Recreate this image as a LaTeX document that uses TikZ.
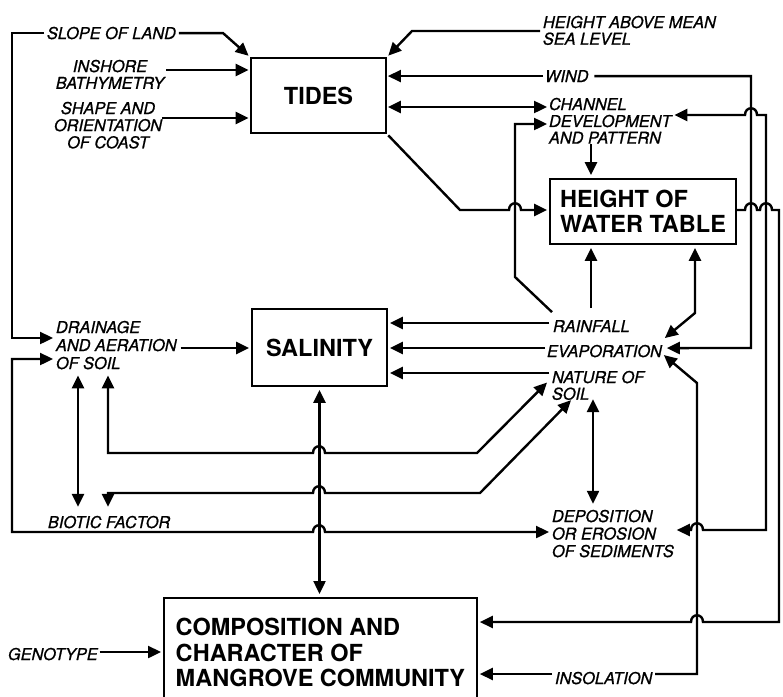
\documentclass[tikz,border=0pt]{standalone}
\usepackage{fontspec}
\setmainfont{TeX Gyre Heros}
\newfontfamily\labfam[ItalicFeatures={FakeBold=0.9}]{TeX Gyre Heros}
\usetikzlibrary{arrows.meta,calc}
\newcommand\labf[1]{\labfam\fontsize{16.3pt}{#1pt}\selectfont\itshape}
\newcommand\boxf[1]{\fontsize{23.5pt}{#1pt}\selectfont\bfseries}
\newcommand\ml[1]{\begin{tabular}[t]{@{}l@{}}#1\end{tabular}}
\newcommand\mc[1]{\begin{tabular}[t]{@{}c@{}}#1\end{tabular}}
\begin{document}
\begin{tikzpicture}[x=1pt,y=-1pt,
  >={Triangle[length=13pt,width=12pt]},
  lab/.style={inner sep=0pt, outer sep=0pt, anchor=base west, font=\labf{16.5}},
  box/.style={draw, line width=1.8pt, inner sep=0pt, font=\boxf{24.5}},
  con/.style={line width=2.4pt},
  arr/.style={con,->},
  darr/.style={con,<->}]
\useasboundingbox (0,0) rectangle (783,696);
\clip (0,0) rectangle (783,696);

% boxes
\node[box, minimum width=135pt, minimum height=75pt] (tides) at (318.5,95.5) {TIDES};
\node[box, minimum width=135pt, minimum height=77pt] (sal) at (319.5,347.5) {SALINITY};
\node[box, minimum width=186pt, minimum height=65pt, text height=17pt, text depth=24.5pt] (wt) at (643,211.5) {\ml{HEIGHT OF\\WATER TABLE}};
\node[box, font=\boxf{25.5}, anchor=north west, minimum width=313pt, minimum height=110pt, text height=17pt, text depth=51pt] (comp) at (163,597) {\ml{COMPOSITION AND\\CHARACTER OF\\MANGROVE COMMUNITY}};

% labels
\node[lab] (slope) at (47,39) {SLOPE OF LAND};
\node[lab, anchor=base] (inshore) at (110,72) {\mc{INSHORE\\BATHYMETRY}};
\node[lab, anchor=base] (shape) at (108,114) {\mc{SHAPE AND\\ORIENTATION\\OF COAST}};
\node[lab, font=\labf{15}] (hasl) at (543,28) {\ml{HEIGHT ABOVE MEAN\\SEA LEVEL}};
\node[lab] (wind) at (545,82) {WIND};
\node[lab, font=\labf{16}] (chan) at (549,110) {\ml{CHANNEL\\DEVELOPMENT\\AND PATTERN}};
\node[lab] (rain) at (553,332) {RAINFALL};
\node[lab] (evap) at (547,357) {EVAPORATION};
\node[lab, font=\labf{15}] (nature) at (552,383) {\ml{NATURE OF\\SOIL}};
\node[lab, font=\labf{18}] (drain) at (56,333) {\ml{DRAINAGE\\AND AERATION\\OF SOIL}};
\node[lab] (biotic) at (48,528) {BIOTIC FACTOR};
\node[lab, font=\labf{17.5}] (depo) at (552,522) {\ml{DEPOSITION\\OR EROSION\\OF SEDIMENTS}};
\node[lab] (geno) at (8,660) {GENOTYPE};
\node[lab] (insol) at (555,684) {INSOLATION};

% slope of land
\draw[arr, shorten <=3pt, shorten >=2pt] (slope.east) -- (slope.east -| 223,0) -- (tides.north west);
\draw[arr, shorten <=3pt, shorten >=3pt] (slope.west) -- (slope.west -| 12,0) -- (12,338) -- (drain.west |- 0,338);
% inshore, shape
\draw[arr, shorten <=2pt, shorten >=1.5pt] (inshore.east |- 0,70) -- (tides.west |- 0,70);
\draw[arr, shorten >=1.5pt] (shape.east |- 0,118) -- (tides.west |- 0,118);
% height above mean sea level
\draw[arr, shorten <=3pt, shorten >=2pt] (hasl.west |- 0,31) -- (412,31) -- (tides.north east);
% wind
\draw[arr, shorten <=2pt, shorten >=1pt] (wind.west) -- (tides.east |- wind.west);
\draw[arr, shorten <=6pt] (wind.east) -- (wind.east -| 751,0) -- (751,348) -- ($(evap.east)+(5,-3)$);
% tides <-> channel
\draw[darr, shorten <=1pt, shorten >=2pt] (tides.east |- 0,107) -- (chan.west |- 0,107);
% rainfall -> channel
\draw[arr, shorten >=2pt] ($(rain.north west)+(-1,-8)$) -- (515,277) -- (515,124) -- (chan.west |- 0,124);
% tides -> water table
\draw[arr, shorten <=2pt, shorten >=2pt] (tides.south east) -- (460,210) -- (509,210) .. controls (509,201) and (521,201) .. (521,210) -- (wt.west |- 0,210);
% channel -> water table
\draw[arr, shorten >=3pt] ($(chan.south -| 591,0)+(0,-4)$) -- (wt.north -| 591,0);
% rainfall -> water table
\draw[arr, shorten >=3pt] ($(rain.north -| 591,0)+(0,-12)$) -- (wt.south -| 591,0);
% water table <-> evaporation
\draw[darr, shorten <=3pt] (wt.south -| 695,0) -- (695,313) -- ($(evap.east)+(3,-13)$);
% -> salinity
\draw[arr, shorten <=4pt, shorten >=2pt] (rain.west |- 0,323) -- (sal.east |- 0,323);
\draw[arr, shorten <=2pt, shorten >=2pt] (evap.west |- 0,348) -- (sal.east |- 0,348);
\draw[arr, shorten <=3pt, shorten >=2pt] (nature.west |- 0,373) -- (sal.east |- 0,373);
\draw[arr, shorten <=4pt, shorten >=2pt] (drain.east |- 0,348) -- (sal.west |- 0,348);
% salinity <-> composition
\draw[darr, shorten <=3pt, shorten >=3pt] (sal.south) -- (sal.south |- comp.north);
% drainage <-> biotic
\draw[darr, shorten <=1pt, shorten >=9pt] (drain.south -| 78,0) -- (biotic.north -| 78,0);
% drainage <-> nature of soil
\draw[darr, shorten <=1pt] (drain.south -| 108,0) -- (108,453) -- (313,453) .. controls (313,444) and (325,444) .. (325,453) -- (477,453) -- ($(nature.west)+(-5,-5)$);
% biotic <-> nature of soil
\draw[darr] ($(biotic.north -| 108,0)+(0,-9)$) -- (108,493) -- (313,493) .. controls (313,484) and (325,484) .. (325,493) -- (480,493) -- ($(nature.south west)+(19,-4)$);
% nature <-> deposition
\draw[darr, shorten >=6pt] ($(nature.south west)+(41,-5)$) -- (depo.north -| 593,0);
% drainage <-> deposition
\draw[darr, shorten <=3pt, shorten >=3pt] (drain.west |- 0,359) -- (12,359) -- (12,532) -- (313,532) .. controls (313,523) and (325,523) .. (325,532) -- (depo.west |- 0,532);
% channel <-> deposition
\draw[darr] ($(chan.east |- 0,115)+(3,0)$) -- (745,115) .. controls (745,106) and (757,106) .. (757,115) -- (766,115) -- (766,530) -- (703,530) .. controls (703,521) and (691,521) .. (691,530) -- ($(depo.east |- 0,530)+(3,0)$);
% water table -> composition
\draw[arr, shorten >=2pt] (wt.east |- 0,210) -- (745,210) .. controls (745,201) and (757,201) .. (757,210) -- (760,210) .. controls (760,201) and (772,201) .. (772,210) -- (779,210) -- (779,622) -- (703,622) .. controls (703,613) and (691,613) .. (691,622) -- (comp.east |- 0,622);
% insolation
\draw[arr, shorten <=3pt] (insol.east |- 0,674) -- (697,674) -- (697,383) -- ($(evap.east)+(2,4)$);
\draw[arr, shorten <=3pt, shorten >=2pt] (insol.west |- 0,674) -- (comp.east |- 0,674);
% genotype
\draw[arr, shorten <=2pt, shorten >=2pt] (geno.east |- 0,652) -- (comp.west |- 0,652);
\end{tikzpicture}
\end{document}
